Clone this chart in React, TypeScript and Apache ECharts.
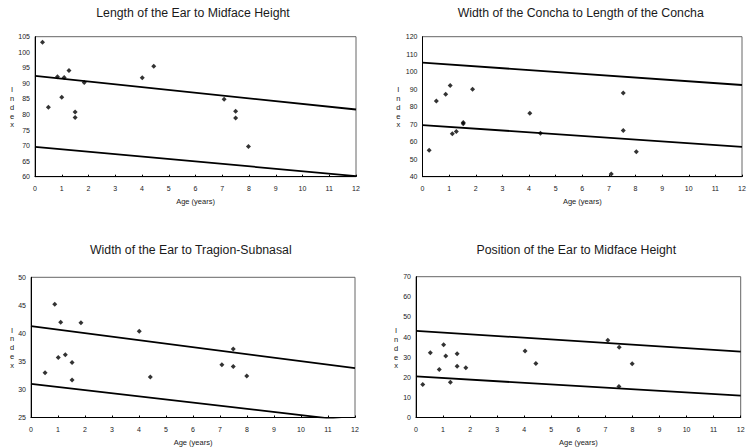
import React, { useEffect, useRef } from "react";
import * as echarts from "echarts";

// Panel 1: Length of the Ear to Midface Height
const ages1 = [0.28, 0.5, 0.84, 1.0, 1.09, 1.27, 1.5, 1.5, 1.84, 4.01, 4.44, 7.07, 7.5, 7.5, 7.98];
const vals1 = [103.2, 82.3, 92.1, 85.5, 91.9, 94.1, 80.8, 79.0, 90.3, 91.8, 95.5, 84.9, 81.0, 78.9, 69.7];
const upper1 = [92.4, 81.6];
const lower1 = [69.6, 60.2];

// Panel 2: Width of the Concha to Length of the Concha
const ages2 = [0.25, 0.52, 0.87, 1.04, 1.12, 1.27, 1.53, 1.53, 1.88, 4.03, 4.43, 7.09, 7.54, 7.54, 8.03];
const vals2 = [55.1, 83.3, 87.1, 92.1, 64.5, 65.8, 71.0, 70.3, 90.0, 76.2, 64.8, 41.5, 87.9, 66.4, 54.2];
const upper2 = [105.2, 92.4];
const lower2 = [69.5, 57.1];

// Panel 3: Width of the Ear to Tragion-Subnasal
const ages3 = [0.52, 0.88, 1.01, 1.1, 1.27, 1.52, 1.52, 1.85, 4.01, 4.42, 7.07, 7.49, 7.49, 7.99];
const vals3 = [33.0, 45.2, 35.7, 42.0, 36.2, 34.8, 31.7, 41.9, 40.4, 32.2, 34.4, 37.2, 34.1, 32.4];
const upper3 = [41.3, 33.8];
const lower3 = [31.0, 24.3];

// Panel 4: Position of the Ear to Midface Height
const ages4 = [0.25, 0.53, 0.86, 1.02, 1.1, 1.27, 1.52, 1.52, 1.84, 4.03, 4.43, 7.09, 7.51, 7.99, 7.5];
const vals4 = [16.4, 32.2, 23.9, 36.2, 30.6, 17.5, 31.7, 25.5, 24.7, 33.1, 26.9, 38.4, 34.9, 26.7, 15.4];
const upper4 = [43.1, 32.8];
const lower4 = [20.4, 10.9];

const lineEnds = [0, 12];
const titles = [
  "Length of the Ear to Midface Height",
  "Width of the Concha to Length of the Concha",
  "Width of the Ear to Tragion-Subnasal",
  "Position of the Ear to Midface Height",
];
const yRanges = [
  [60, 105, 5],
  [40, 120, 10],
  [25, 50, 5],
  [0, 70, 10],
];
const xAxisName = "Age (years)";
const yAxisName = "Index";

const FONT = "'Liberation Sans', Arial, sans-serif";

export default function App() {
  const ref = useRef<HTMLDivElement>(null);
  useEffect(() => {
    if (!ref.current) return;
    const chart = echarts.init(ref.current, undefined, { renderer: "svg" });

    const grids = [
      { left: 35, top: 36.7, width: 321, height: 140 },
      { left: 422.5, top: 36.7, width: 319.5, height: 140 },
      { left: 31, top: 277.3, width: 324, height: 141 },
      { left: 416, top: 276.7, width: 324.7, height: 141 },
    ];
    const nameGaps = [21, 21, 20.5, 20.5];
    const titlePos = [
      [193, 12.5],
      [580.7, 12.7],
      [190.8, 250],
      [576.3, 250],
    ];
    const indexPos = [
      [12, 107.3],
      [398.3, 107.3],
      [12, 347.7],
      [396, 348.3],
    ];
    const allAges = [ages1, ages2, ages3, ages4];
    const allVals = [vals1, vals2, vals3, vals4];
    const uppers = [upper1, upper2, upper3, upper4];
    const lowers = [lower1, lower2, lower3, lower4];

    const series: any[] = [];
    for (let i = 0; i < 4; i++) {
      series.push({
        type: "scatter",
        xAxisIndex: i,
        yAxisIndex: i,
        symbol: "diamond",
        symbolSize: 5,
        itemStyle: { color: "#000" },
        data: allAges[i].map((a, k) => [a, allVals[i][k]]),
      });
      [uppers[i], lowers[i]].forEach((ln) => {
        series.push({
          type: "line",
          xAxisIndex: i,
          yAxisIndex: i,
          symbol: "none",
          clip: true,
          lineStyle: { color: "#000", width: 1.8 },
          data: lineEnds.map((x, k) => [x, ln[k]]),
        });
      });
    }

    const graphic: any[] = [];
    for (let i = 0; i < 4; i++) {
      graphic.push({
        type: "text",
        x: titlePos[i][0],
        y: titlePos[i][1],
        style: {
          text: titles[i],
          font: `12.3px ${FONT}`,
          fill: "#1a1a1a",
          align: "center",
          verticalAlign: "middle",
        },
      });
      graphic.push({
        type: "text",
        x: indexPos[i][0],
        y: indexPos[i][1],
        style: {
          text: yAxisName.split("").join("\n"),
          font: `7.5px ${FONT}`,
          lineHeight: 8.8,
          fill: "#1a1a1a",
          align: "center",
          verticalAlign: "middle",
        },
      });
    }

    chart.setOption({
      animation: false,
      grid: grids.map((g) => ({
        ...g,
        show: true,
        borderColor: "#666",
        borderWidth: 1,
        containLabel: false,
      })),
      xAxis: grids.map((_, i) => ({
        type: "value",
        gridIndex: i,
        min: 0,
        max: 12,
        interval: 1,
        name: xAxisName,
        nameLocation: "middle",
        nameGap: nameGaps[i],
        nameTextStyle: { fontFamily: FONT, fontSize: 7.5, color: "#1a1a1a" },
        axisLine: { lineStyle: { color: "#000", width: 1 } },
        axisTick: { inside: true, length: 2, lineStyle: { color: "#000" } },
        axisLabel: { fontFamily: FONT, fontSize: 7, color: "#1a1a1a", margin: 8 },
        splitLine: { show: false },
      })),
      yAxis: grids.map((_, i) => ({
        type: "value",
        gridIndex: i,
        min: yRanges[i][0],
        max: yRanges[i][1],
        interval: yRanges[i][2],
        axisLine: { show: true, lineStyle: { color: "#000", width: 1 } },
        axisTick: { show: false },
        axisLabel: { fontFamily: FONT, fontSize: 7, color: "#1a1a1a", margin: 5 },
        splitLine: { show: false },
      })),
      series,
      graphic,
    });

    return () => chart.dispose();
  }, []);

  return (
    <div
      ref={ref}
      style={{ position: "fixed", left: 0, top: 0, width: 750, height: 447, background: "#fff" }}
    />
  );
}
